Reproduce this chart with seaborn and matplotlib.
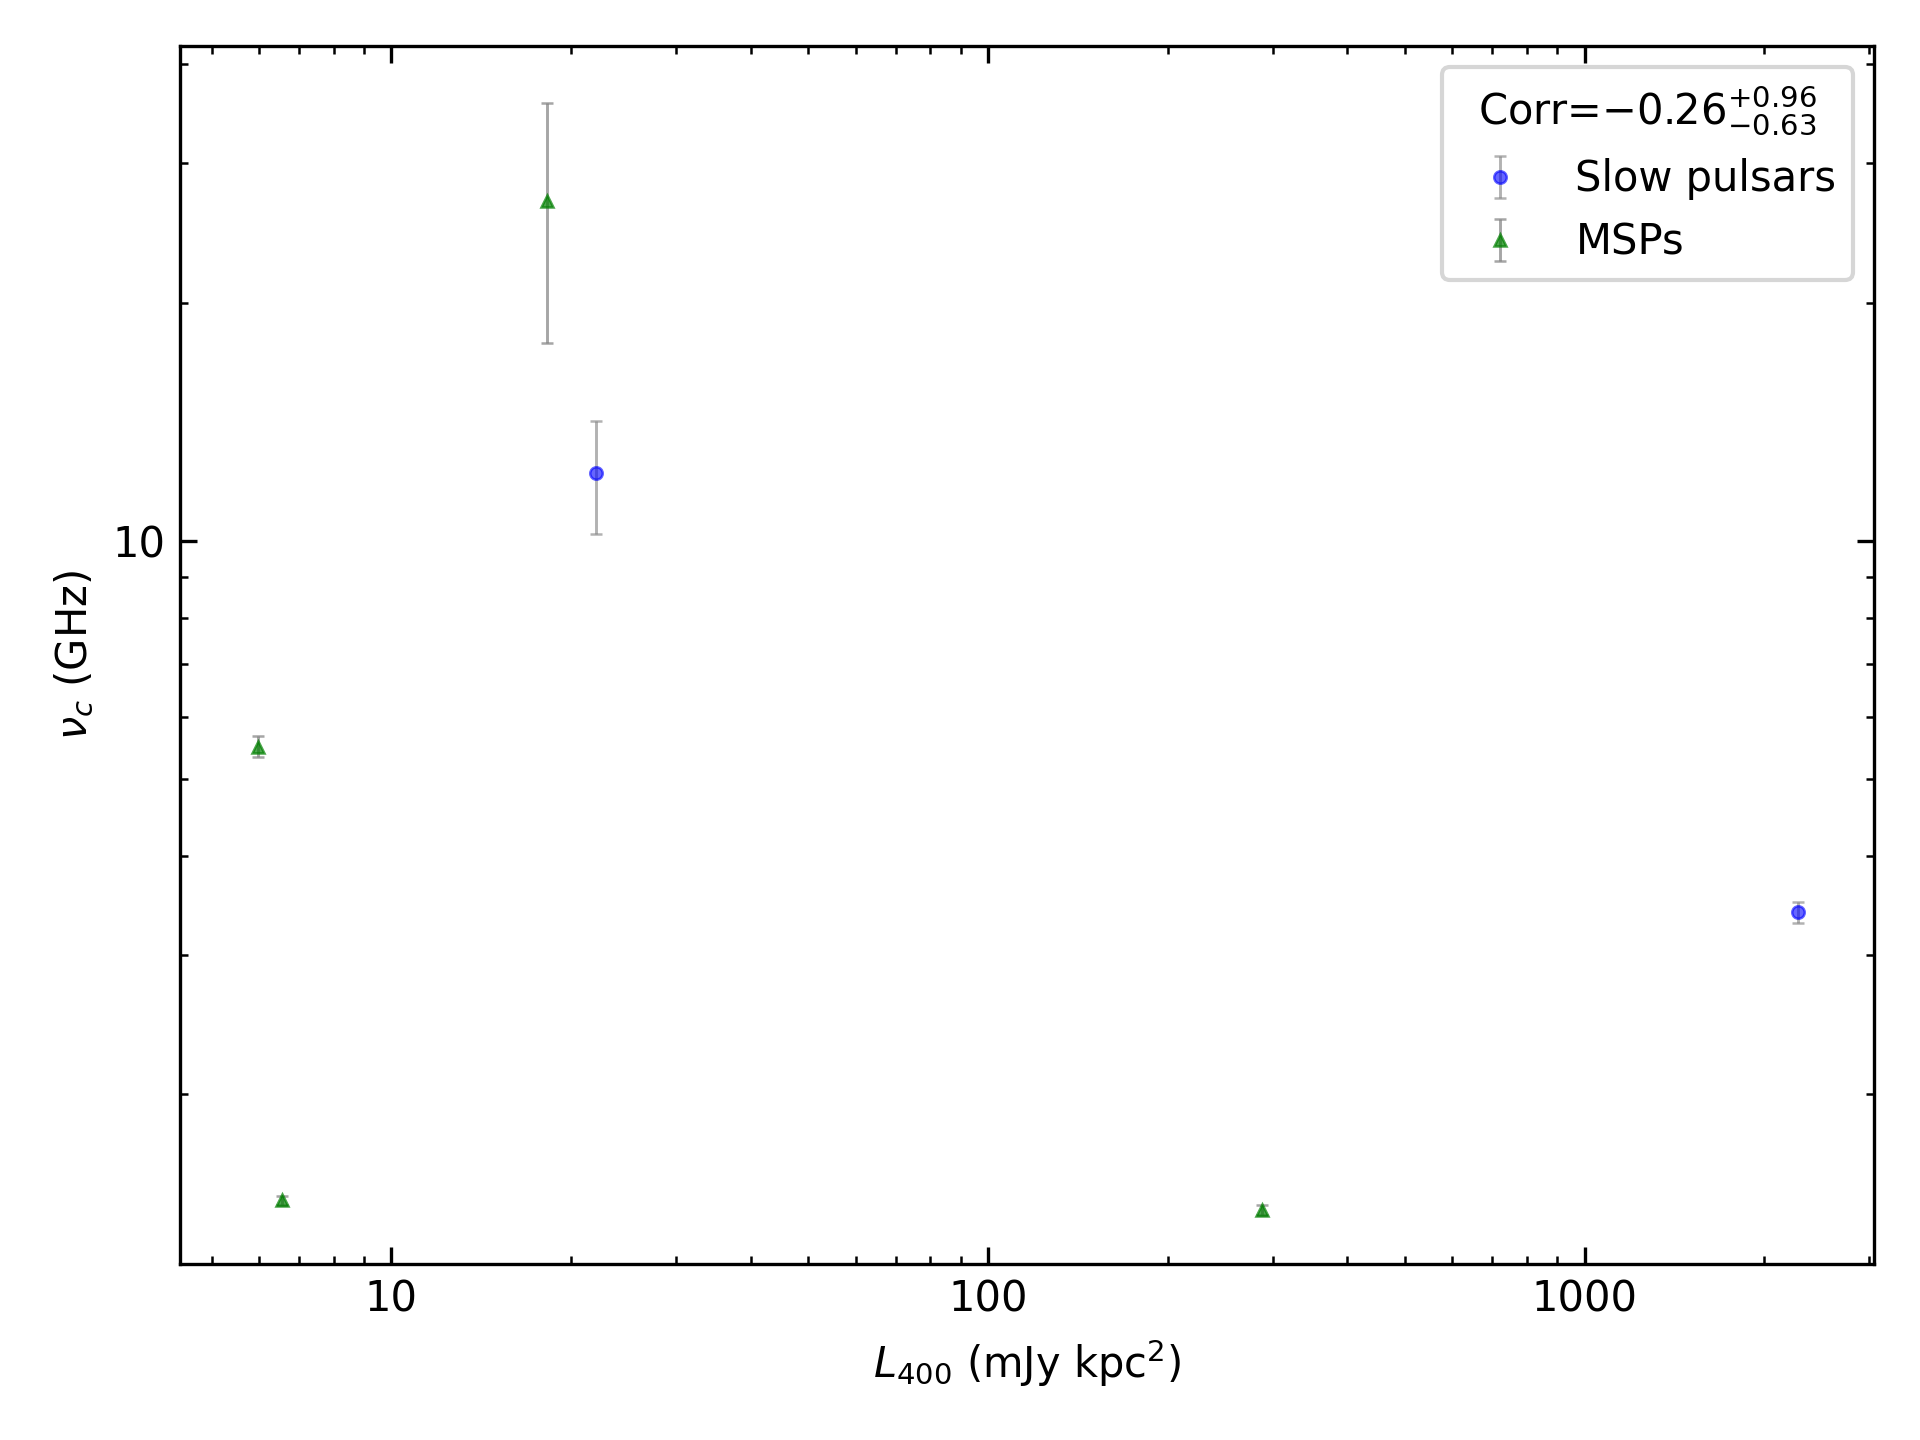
import numpy as np
import matplotlib
matplotlib.use("Agg")
import matplotlib.pyplot as plt
import seaborn as sns

slow_lum = [22.0, 2275.0]
slow_nu = [12.2, 3.40]
slow_lo = [2.0, 0.11]
slow_hi = [2.0, 0.10]

msp_lum = [18.2, 5.97, 6.56, 288.0]
msp_nu = [26.9, 5.50, 1.47, 1.43]
msp_lo = [9.1, 0.17, 0.02, 0.02]
msp_hi = [8.9, 0.17, 0.02, 0.02]

sns.set_style("ticks")
plt.rcParams["font.family"] = ["DejaVu Sans"]
plt.rcParams["text.color"] = "black"
plt.rcParams["axes.labelcolor"] = "black"
plt.rcParams["xtick.color"] = "black"
plt.rcParams["ytick.color"] = "black"
fig, ax = plt.subplots(figsize=(6.4, 4.8), dpi=300)

ax.errorbar(slow_lum, slow_nu, yerr=[slow_lo, slow_hi], fmt="o", color="blue",
            alpha=0.6, ecolor="gray", elinewidth=0.7, capsize=1.5, markersize=3,
            markeredgewidth=0.6, label="Slow pulsars")
ax.errorbar(msp_lum, msp_nu, yerr=[msp_lo, msp_hi], fmt="^", color="green",
            alpha=0.7, ecolor="gray", elinewidth=0.7, capsize=1.5, markersize=3,
            markeredgewidth=0.6, label="MSPs")

ax.set_xscale("log")
ax.set_yscale("log")
ax.set_xlim(4.43, 3055)
ax.set_ylim(1.22, 42.2)
ax.set_xticks([10, 100, 1000])
ax.set_xticklabels(["10", "100", "1000"])
ax.set_yticks([10])
ax.set_yticklabels(["10"])
ax.yaxis.set_minor_formatter(matplotlib.ticker.NullFormatter())
ax.tick_params(which="both", direction="in", top=True, right=True,
               left=True, bottom=True, labelsize=10)
ax.tick_params(which="major", length=4, width=0.8)
ax.tick_params(which="minor", length=2, width=0.6)
for s in ax.spines.values():
    s.set_color("black")
    s.set_linewidth(0.8)

ax.set_xlabel(r"$L_{400}$ (mJy kpc$^2$)", fontsize=10)
ax.set_ylabel(r"$\nu_c$ (GHz)", fontsize=10)
leg = ax.legend(title=r"Corr=$-0.26^{+0.96}_{-0.63}$", loc="upper right",
                fontsize=10, title_fontsize=10)
fig.subplots_adjust(left=0.094, right=0.976, top=0.968, bottom=0.122)
fig.savefig("out.png", dpi=300)
